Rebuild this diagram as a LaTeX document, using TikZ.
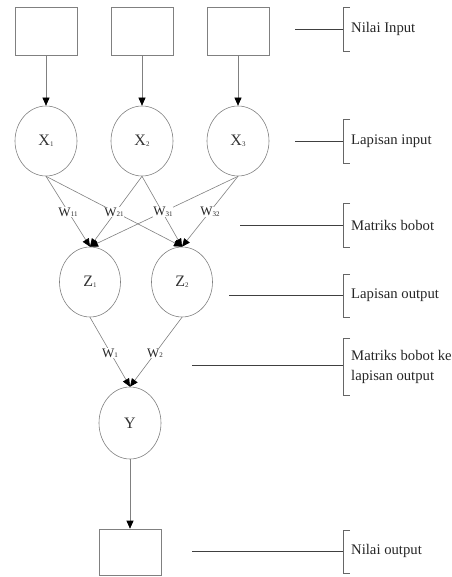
\documentclass[tikz,border=0pt]{standalone}
\usepackage{fontspec}
\setmainfont{Liberation Serif}
\usetikzlibrary{shapes.geometric,arrows.meta}
\newcommand{\idx}[1]{\raisebox{-0.5pt}{\fontsize{7}{7}\selectfont #1}}

\begin{document}
\begin{tikzpicture}[x=1pt,y=-1pt,
    box/.style={draw=gray,line width=0.6pt,minimum width=62pt,minimum height=48pt,inner sep=0pt},
    neuron/.style={ellipse,draw=gray,line width=0.6pt,minimum width=62pt,minimum height=70pt,inner sep=0pt,font=\fontsize{16}{16}\selectfont,text=black!80},
    link/.style={draw=gray,line width=0.6pt,-{Triangle[length=8pt,width=7pt,color=black]}},
    wt/.style={fill=white,inner sep=0.8pt,font=\fontsize{13}{13}\selectfont,text=black!85},
    tagline/.style={draw=black!75,line width=0.7pt},
    tag/.style={draw=black!60,line width=0.6pt},
    tagtext/.style={anchor=west,inner sep=0pt,align=left,font=\fontsize{14.7}{20}\selectfont,text=black!85}]
    \useasboundingbox (0,0) rectangle (451,577);

    %input boxes
    \node[box] (in1) at (46,31) {};
    \node[box] (in2) at (142,31) {};
    \node[box] (in3) at (238,31) {};

    %input layer
    \node[neuron] (x1) at (46,141) {X\idx{1}};
    \node[neuron] (x2) at (142,141) {X\idx{2}};
    \node[neuron] (x3) at (238,141) {X\idx{3}};
    \draw[link] (in1.south) -- (x1.north);
    \draw[link] (in2.south) -- (x2.north);
    \draw[link] (in3.south) -- (x3.north);

    %output layer
    \node[neuron,minimum width=61pt] (z1) at (90,282) {Z\idx{1}};
    \node[neuron,minimum width=61pt] (z2) at (182,282) {Z\idx{2}};
    \draw[link] (x1.south) -- (z1.north);
    \draw[link] (x1.south) -- (z2.north);
    \draw[link] (x2.south) -- (z1.north);
    \draw[link] (x2.south) -- (z2.north);
    \draw[link] (x3.south) -- (z1.north);
    \draw[link] (x3.south) -- (z2.north);
    \node[wt] (w11) at (68,212) {W\idx{11}};
    \node[wt] (w21) at (114,212) {W\idx{21}};
    \node[wt] (w31) at (163,212) {W\idx{31}};
    \node[wt] (w32) at (210,212) {W\idx{32}};

    %Y and output box
    \node[neuron,minimum height=72pt] (y) at (130,423) {Y};
    \draw[link] (z1.south) -- (y.north);
    \draw[link] (z2.south) -- (y.north);
    \node[wt] (w1) at (110,353) {W\idx{1}};
    \node[wt] (w2) at (155,353) {W\idx{2}};
    \node[box,minimum height=46pt] (out) at (130,552) {};
    \draw[link] (y.south) -- (out.north);

    %labels
    \coordinate (a1) at (295,29);
    \coordinate (a2) at (295,141);
    \coordinate (a3) at (240,225);
    \coordinate (a4) at (229,295);
    \coordinate (a5) at (192,365);
    \coordinate (a6) at (192,551);
    \draw[tagline] (a1) -- (343,29);
    \draw[tag] (350,7) -- (343,7) -- (343,51) -- (350,51);
    \node[tagtext] (t1) at (351,29) {Nilai Input};
    \draw[tagline] (a2) -- (343,141);
    \draw[tag] (350,119) -- (343,119) -- (343,163) -- (350,163);
    \node[tagtext] (t2) at (351,141) {Lapisan input};
    \draw[tagline] (a3) -- (343,225);
    \draw[tag] (350,203) -- (343,203) -- (343,247) -- (350,247);
    \node[tagtext] (t3) at (351,225) {Matriks bobot};
    \draw[tagline] (a4) -- (343,295);
    \draw[tag] (350,274) -- (343,274) -- (343,317) -- (350,317);
    \node[tagtext] (t4) at (351,295) {Lapisan output};
    \draw[tagline] (a5) -- (343,365);
    \draw[tag] (350,338) -- (343,338) -- (343,395) -- (350,395);
    \node[tagtext] (t5) at (351,367) {Matriks bobot ke\\lapisan output};
    \draw[tagline] (a6) -- (343,551);
    \draw[tag] (350,530) -- (343,530) -- (343,573) -- (350,573);
    \node[tagtext] (t6) at (351,551) {Nilai output};
\end{tikzpicture}
\end{document}
